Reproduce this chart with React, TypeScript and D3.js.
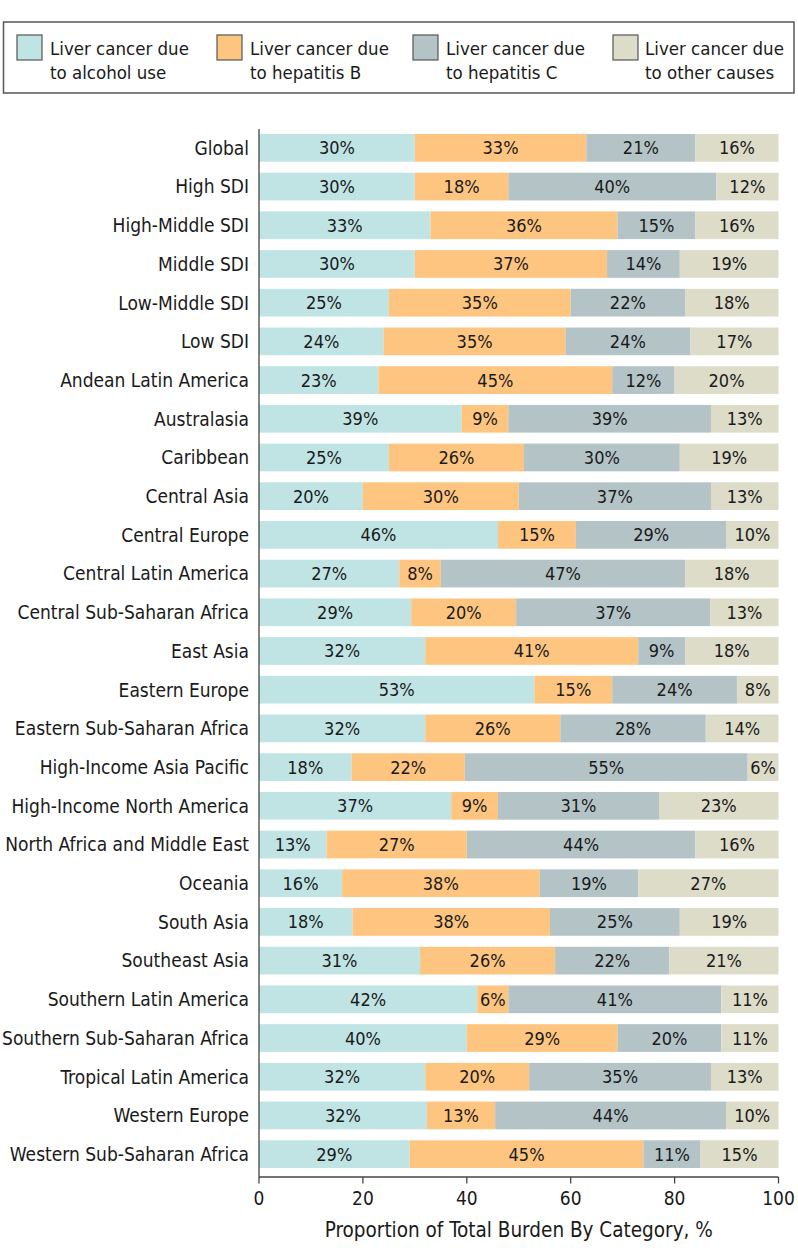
import React from "react";
import * as d3 from "d3";

const categories: string[] = [
  "Global",
  "High SDI",
  "High-Middle SDI",
  "Middle SDI",
  "Low-Middle SDI",
  "Low SDI",
  "Andean Latin America",
  "Australasia",
  "Caribbean",
  "Central Asia",
  "Central Europe",
  "Central Latin America",
  "Central Sub-Saharan Africa",
  "East Asia",
  "Eastern Europe",
  "Eastern Sub-Saharan Africa",
  "High-Income Asia Pacific",
  "High-Income North America",
  "North Africa and Middle East",
  "Oceania",
  "South Asia",
  "Southeast Asia",
  "Southern Latin America",
  "Southern Sub-Saharan Africa",
  "Tropical Latin America",
  "Western Europe",
  "Western Sub-Saharan Africa",
];

const alcohol: number[] = [30, 30, 33, 30, 25, 24, 23, 39, 25, 20, 46, 27, 29, 32, 53, 32, 18, 37, 13, 16, 18, 31, 42, 40, 32, 32, 29];
const hepB: number[] = [33, 18, 36, 37, 35, 35, 45, 9, 26, 30, 15, 8, 20, 41, 15, 26, 22, 9, 27, 38, 38, 26, 6, 29, 20, 13, 45];
const hepC: number[] = [21, 40, 15, 14, 22, 24, 12, 39, 30, 37, 29, 47, 37, 9, 24, 28, 55, 31, 44, 19, 25, 22, 41, 20, 35, 44, 11];
const other: number[] = [16, 12, 16, 19, 18, 17, 20, 13, 19, 13, 10, 18, 13, 18, 8, 14, 6, 23, 16, 27, 19, 21, 11, 11, 13, 10, 15];

const seriesKeys = ["alcohol", "hepB", "hepC", "other"];
const seriesLabels: string[][] = [
  ["Liver cancer due", "to alcohol use"],
  ["Liver cancer due", "to hepatitis B"],
  ["Liver cancer due", "to hepatitis C"],
  ["Liver cancer due", "to other causes"],
];
const seriesColors = ["#c0e4e4", "#fdc57f", "#b3c3c6", "#dcdcc8"];
const xTicks = [0, 20, 40, 60, 80, 100];

const FONT = "'DejaVu Sans Condensed', 'DejaVu Sans', sans-serif";
const INK = "#1a1a1a";

export default function App() {
  const width = 798;
  const height = 1260;
  const x0 = 259;
  const x1 = 778.5;
  const axisY = 1177;

  const rows = categories.map((c, i) => {
    const raw = [alcohol[i], hepB[i], hepC[i], other[i]];
    const sum = d3.sum(raw);
    const r: any = { name: c };
    seriesKeys.forEach((k, j) => {
      r[k] = (raw[j] / sum) * 100;
      r[k + "_label"] = raw[j];
    });
    return r;
  });

  const stack = d3.stack<any>().keys(seriesKeys);
  const stacked = stack(rows);

  const x = d3.scaleLinear().domain([0, 100]).range([x0, x1]);
  const y = d3
    .scaleBand<string>()
    .domain(categories)
    .range([128.5, 1173.5])
    .paddingInner(0.284)
    .paddingOuter(0.142);

  const legendSwatchX = [17, 217, 413, 613];
  const legendTextX = [50, 250, 446, 645];

  return (
    <svg width={width} height={height} style={{ display: "block", position: "absolute", left: 0, top: 0 }} fontFamily={FONT}>
      {/* legend */}
      <rect x={3.5} y={22} width={790.5} height={71} fill="white" stroke="#555" strokeWidth={1.5} />
      {seriesKeys.map((k, i) => (
        <g key={k}>
          <rect x={legendSwatchX[i]} y={35} width={25} height={25} fill={seriesColors[i]} stroke="#555" strokeWidth={1.2} />
          <text x={legendTextX[i]} y={54.5} fontSize={18.5} fill={INK}>
            {seriesLabels[i][0]}
          </text>
          <text x={legendTextX[i]} y={79} fontSize={18.5} fill={INK}>
            {seriesLabels[i][1]}
          </text>
        </g>
      ))}

      {/* bars */}
      {stacked.map((s, si) => (
        <g key={s.key} fill={seriesColors[si]}>
          {s.map((d) => (
            <rect
              key={d.data.name}
              x={x(d[0])}
              y={y(d.data.name)}
              width={x(d[1]) - x(d[0])}
              height={y.bandwidth()}
            />
          ))}
        </g>
      ))}

      {/* value labels */}
      {stacked.map((s) => (
        <g key={s.key + "l"}>
          {s.map((d) => (
            <text
              key={d.data.name}
              x={(x(d[0]) + x(d[1])) / 2}
              y={(y(d.data.name) as number) + y.bandwidth() / 2}
              dy="0.36em"
              textAnchor="middle"
              fontSize={18}
              fill={INK}
            >
              {d.data[s.key + "_label"] + "%"}
            </text>
          ))}
        </g>
      ))}

      {/* category labels */}
      {categories.map((c) => (
        <text
          key={c}
          x={x0 - 10}
          y={(y(c) as number) + y.bandwidth() / 2}
          dy="0.36em"
          textAnchor="end"
          fontSize={19}
          fill={INK}
        >
          {c}
        </text>
      ))}

      {/* axes */}
      <line x1={x0} x2={x0} y1={129} y2={axisY} stroke="#444" strokeWidth={1.3} />
      <line x1={x0} x2={x1} y1={axisY} y2={axisY} stroke="#444" strokeWidth={1.3} />
      {xTicks.map((t) => (
        <g key={t}>
          <line x1={x(t)} x2={x(t)} y1={axisY} y2={axisY + 6.5} stroke="#444" strokeWidth={1.3} />
          <text x={x(t)} y={1205} textAnchor="middle" fontSize={19} fill={INK}>
            {t}
          </text>
        </g>
      ))}
      <text x={(x0 + x1) / 2} y={1236.5} textAnchor="middle" fontSize={20.5} fill={INK}>
        Proportion of Total Burden By Category, %
      </text>
    </svg>
  );
}
